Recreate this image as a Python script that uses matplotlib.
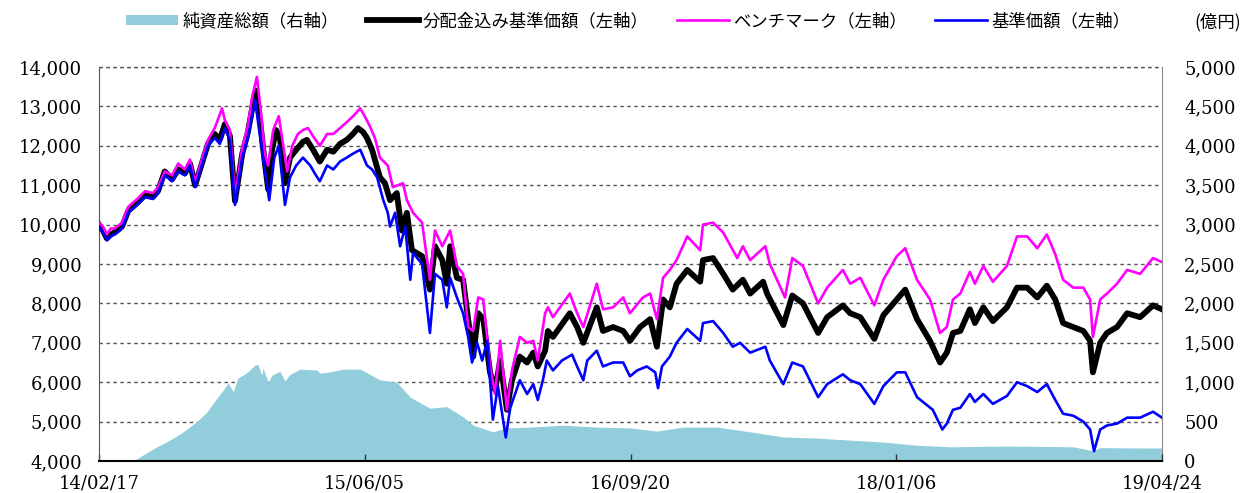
import numpy as np
import matplotlib
matplotlib.use("Agg")
import matplotlib.pyplot as plt
from matplotlib.lines import Line2D
from matplotlib.patches import Patch
from matplotlib.ticker import FuncFormatter

# ---------------- data ----------------
start_date = "2014-02-17"
tick_dates = ["2014-02-17", "2015-06-05", "2016-09-20", "2018-01-06", "2019-04-24"]
tick_labels = ["14/02/17", "15/06/05", "16/09/20", "18/01/06", "19/04/24"]

# 基準価額（左軸）: (days since start, value)
nav_days = [0, 7, 14, 21, 28, 41, 52, 68, 82, 96, 105, 117, 130, 141, 153, 162, 171, 183, 194, 206,
            215, 224, 233, 242, 255, 265, 272, 278, 285, 294, 303, 312, 320, 331, 340, 351, 363, 376,
            384, 393, 406, 417, 429, 441, 452, 465, 477, 486, 495, 506, 514, 518, 527, 536, 545, 554,
            559, 575, 589, 598, 611, 619, 625, 637, 648, 657, 664, 673, 682, 691, 701, 710, 724, 732,
            749, 762, 773, 781, 790, 797, 808, 824, 842, 851, 862, 869, 886, 897, 915, 933, 945, 958,
            975, 990, 995, 1002, 1016, 1028, 1047, 1070, 1075, 1093, 1111, 1128, 1141, 1159, 1186,
            1194, 1218, 1234, 1253, 1280, 1296, 1324, 1337, 1355, 1380, 1396, 1420, 1435, 1456, 1484,
            1501, 1509, 1520, 1533, 1550, 1559, 1574, 1591, 1616, 1634, 1652, 1670, 1687, 1702, 1716,
            1734, 1752, 1764, 1771, 1782, 1794, 1812, 1830, 1853, 1876, 1892]
nav_vals = [9950, 9800, 9600, 9700, 9750, 9900, 10300, 10500, 10700, 10650, 10800, 11250, 11100, 11350,
            11250, 11500, 10950, 11500, 12000, 12200, 12050, 12450, 12150, 10500, 11700, 12200, 12700,
            13150, 12400, 11500, 10620, 11700, 12000, 10500, 11200, 11500, 11700, 11500, 11300, 11100,
            11500, 11400, 11600, 11700, 11800, 11900, 11500, 11400, 11200, 10620, 10300, 9950, 10300,
            9450, 9950, 8600, 9280, 9000, 7250, 8750, 8600, 7900, 8650, 8150, 7750, 7150, 6500, 7000,
            6550, 7050, 5050, 5900, 4600, 5350, 6050, 5700, 5950, 5550, 6050, 6550, 6300, 6550, 6700,
            6400, 6050, 6550, 6800, 6400, 6500, 6500, 6150, 6300, 6400, 6250, 5850, 6400, 6650, 7000,
            7350, 7050, 7500, 7550, 7250, 6900, 7000, 6750, 6900, 6550, 5950, 6500, 6400, 5620, 5950,
            6200, 6050, 5950, 5450, 5900, 6250, 6250, 5620, 5300, 4800, 4950, 5300, 5350, 5700, 5500,
            5700, 5450, 5650, 6000, 5900, 5750, 5950, 5550, 5200, 5150, 5000, 4800, 4250, 4800, 4900,
            4950, 5100, 5100, 5250, 5100]

# 分配金込み基準価額（左軸）
adj_days = [0, 7, 14, 21, 28, 41, 52, 68, 82, 96, 105, 117, 130, 141, 153, 162, 171, 183, 194, 206,
            215, 224, 233, 242, 255, 265, 272, 279, 287, 294, 301, 308, 315, 322, 331, 340, 351, 363,
            370, 381, 393, 406, 417, 429, 441, 452, 461, 470, 477, 486, 500, 509, 518, 530, 539, 548,
            557, 575, 589, 598, 611, 619, 625, 637, 648, 657, 666, 675, 684, 696, 705, 714, 726, 735,
            749, 762, 773, 781, 794, 799, 808, 838, 851, 862, 886, 897, 915, 933, 945, 963, 981, 993,
            1004, 1016, 1028, 1047, 1070, 1075, 1093, 1111, 1128, 1146, 1159, 1182, 1189, 1218, 1234,
            1253, 1280, 1296, 1324, 1337, 1355, 1380, 1396, 1420, 1435, 1456, 1479, 1497, 1509, 1520,
            1533, 1550, 1559, 1574, 1591, 1616, 1634, 1652, 1670, 1687, 1702, 1716, 1734, 1752, 1764,
            1769, 1782, 1794, 1812, 1830, 1853, 1876, 1892]
adj_vals = [10000, 9850, 9650, 9750, 9800, 9950, 10350, 10550, 10750, 10700, 10850, 11350, 11150, 11400,
            11300, 11550, 11000, 11550, 12050, 12300, 12150, 12550, 12250, 10600, 11800, 12350, 12900,
            13400, 12600, 11700, 10900, 11900, 12400, 12200, 11050, 11700, 11900, 12100, 12150, 11900,
            11600, 11900, 11850, 12050, 12150, 12300, 12450, 12350, 12200, 11900, 11200, 11050, 10620,
            10800, 9850, 10300, 9350, 9200, 8350, 9450, 9100, 8500, 9450, 8650, 8600, 7600, 6650, 7750,
            7600, 6250, 5800, 6550, 5300, 6050, 6650, 6500, 6750, 6400, 6800, 7300, 7150, 7750, 7400,
            7000, 7900, 7300, 7400, 7300, 7050, 7400, 7600, 6900, 8100, 7900, 8500, 8850, 8550, 9100,
            9150, 8750, 8350, 8600, 8250, 8550, 8250, 7450, 8200, 8000, 7250, 7650, 7950, 7750, 7650,
            7100, 7700, 8100, 8350, 7600, 7050, 6500, 6750, 7250, 7300, 7850, 7500, 7900, 7550, 7900,
            8400, 8400, 8150, 8450, 8100, 7500, 7400, 7300, 7050, 6250, 7000, 7250, 7400, 7750, 7650,
            7950, 7850]

# ベンチマーク（左軸）
bm_days = [0, 7, 14, 21, 28, 41, 52, 68, 82, 96, 105, 117, 130, 141, 153, 162, 171, 183, 194, 206,
           219, 224, 233, 242, 255, 265, 272, 281, 288, 295, 301, 310, 320, 328, 335, 344, 354, 363,
           372, 383, 393, 406, 417, 429, 441, 452, 465, 473, 482, 491, 500, 514, 523, 541, 548, 559,
           575, 589, 598, 611, 625, 637, 648, 657, 666, 675, 684, 696, 705, 714, 726, 735, 749, 762,
           773, 781, 794, 799, 808, 838, 851, 862, 886, 897, 915, 933, 945, 968, 981, 993, 1004, 1016,
           1028, 1047, 1070, 1075, 1093, 1111, 1136, 1146, 1159, 1186, 1194, 1221, 1234, 1253, 1280,
           1296, 1324, 1337, 1355, 1380, 1396, 1420, 1435, 1456, 1479, 1497, 1509, 1520, 1533, 1550,
           1559, 1574, 1591, 1616, 1634, 1652, 1670, 1687, 1702, 1716, 1734, 1752, 1764, 1769, 1782,
           1794, 1812, 1830, 1853, 1876, 1892]
bm_vals = [10050, 9950, 9750, 9900, 9900, 10050, 10450, 10650, 10850, 10800, 10950, 11350, 11250, 11550,
           11400, 11650, 11050, 11650, 12150, 12450, 12950, 12650, 12400, 10700, 11950, 12500, 13200,
           13750, 12900, 11800, 11500, 12400, 12750, 12000, 11350, 12000, 12300, 12400, 12450, 12200,
           12000, 12300, 12300, 12450, 12600, 12750, 12950, 12750, 12500, 12200, 11700, 11500, 10950,
           11050, 10620, 10300, 10050, 8600, 9850, 9450, 9850, 8950, 8750, 7400, 7300, 8150, 8100, 6400,
           5700, 7050, 5300, 6300, 7150, 7000, 7050, 6550, 7750, 7900, 7650, 8250, 7750, 7400, 8500,
           7850, 7900, 8150, 7750, 8150, 8250, 7600, 8650, 8850, 9100, 9700, 9350, 10000, 10050, 9800,
           9150, 9450, 9100, 9450, 9000, 8150, 9150, 8950, 8000, 8400, 8850, 8500, 8650, 7950, 8600,
           9200, 9400, 8600, 8100, 7250, 7400, 8100, 8250, 8800, 8500, 8950, 8550, 8950, 9700, 9700,
           9400, 9750, 9250, 8600, 8400, 8400, 8100, 7150, 8100, 8250, 8500, 8850, 8750, 9150, 9050]

# 純資産総額（右軸, 億円）
aum_days = [0, 61, 78, 103, 126, 150, 174, 192, 210, 221, 230, 239, 247, 263, 278, 283, 290, 292, 301,
            308, 322, 331, 340, 358, 388, 393, 411, 434, 465, 482, 500, 530, 554, 589, 619, 648, 666,
            701, 726, 767, 826, 886, 945, 993, 1040, 1100, 1159, 1218, 1278, 1337, 1396, 1456, 1515,
            1616, 1734, 1769, 1782, 1853, 1892]
aum_vals = [0, 0, 75, 180, 265, 370, 500, 620, 800, 900, 990, 880, 1050, 1120, 1220, 1220, 1090, 1180,
            1000, 1090, 1140, 1015, 1100, 1165, 1155, 1115, 1130, 1165, 1165, 1100, 1030, 1000, 810, 670,
            690, 560, 455, 370, 420, 430, 455, 430, 420, 380, 430, 430, 370, 305, 290, 265, 240, 200,
            180, 190, 180, 130, 170, 165, 165]

# ---------------- helpers ----------------
t0 = np.datetime64(start_date)
def to_dates(days):
    return t0 + np.array(days).astype("timedelta64[D]")

W, H = 1248, 493
fig = plt.figure(figsize=(W / 100, H / 100), dpi=100)
pos = [99 / W, 32 / H, (1162 - 99) / W, (461 - 67) / H]

# area axis (right scale), also carries the grid
ax2 = fig.add_axes(pos)
ax2.fill_between(to_dates(aum_days), 0, aum_vals, color="#92CDDC", linewidth=0, zorder=2)
ax2.set_ylim(0, 5000)
ax2.set_yticks(np.arange(0, 5001, 500))
ax2.yaxis.tick_right()
ax2.yaxis.set_label_position("right")
ax2.yaxis.set_major_formatter(FuncFormatter(lambda v, p: f"{int(v):,}"))
ax2.grid(axis="y", color="#555555", linestyle=(0, (2.5, 2.5)), linewidth=1.0, zorder=1)
ax2.set_axisbelow(True)
ax2.tick_params(axis="y", length=0, pad=16, labelsize=13)
for lab in ax2.get_yticklabels():
    lab.set_family("DejaVu Serif")

# line axis (left scale)
ax = fig.add_axes(pos, sharex=ax2)
ax.patch.set_visible(False)
ax.plot(to_dates(adj_days), adj_vals, color="black", linewidth=4.2, solid_joinstyle="round", zorder=3)
ax.plot(to_dates(bm_days), bm_vals, color="#FF00FF", linewidth=1.9, zorder=4)
ax.plot(to_dates(nav_days), nav_vals, color="#0000FF", linewidth=1.9, zorder=5)
ax.set_ylim(4000, 14000)
ax.set_yticks(np.arange(4000, 14001, 1000))
ax.yaxis.set_major_formatter(FuncFormatter(lambda v, p: f"{int(v):,}"))
ax.tick_params(axis="y", length=0, pad=12, labelsize=13)
for lab in ax.get_yticklabels():
    lab.set_family("DejaVu Serif")

ax.set_xlim(np.datetime64(tick_dates[0]), np.datetime64(tick_dates[-1]))
ax.set_xticks([np.datetime64(d) for d in tick_dates])
ax.set_xticklabels(tick_labels, family="DejaVu Serif", fontsize=13)
ax.tick_params(axis="x", direction="in", length=5, width=1, color="#333333", pad=10)
ax2.tick_params(axis="x", bottom=False, labelbottom=False)

for a in (ax, ax2):
    a.spines["top"].set_visible(False)
ax.spines["right"].set_visible(False)
ax2.spines["left"].set_visible(False)
ax2.spines["bottom"].set_visible(False)
ax.spines["left"].set_color("#555555")
ax2.spines["right"].set_color("#888888")
ax.spines["bottom"].set_color("black")
ax.spines["bottom"].set_linewidth(1.5)
# top dashed line at 14,000
ax.axhline(14000, color="#555555", linestyle=(0, (2.5, 2.5)), linewidth=1.0, zorder=0, clip_on=False)

# legend
jp = ["Noto Sans CJK JP", "DejaVu Sans"]
handles = [
    Patch(facecolor="#92CDDC", edgecolor="none"),
    Line2D([], [], color="black", linewidth=4.2),
    Line2D([], [], color="#FF00FF", linewidth=1.9),
    Line2D([], [], color="#0000FF", linewidth=1.9),
]
labels = ["純資産総額（右軸）", "分配金込み基準価額（左軸）", "ベンチマーク（左軸）", "基準価額（左軸）"]
leg = fig.legend(handles, labels, loc="center left", bbox_to_anchor=(126 / W, 1 - 21 / H),
                 ncol=4, frameon=False, prop={"family": jp, "size": 12.5},
                 handlelength=3.0, handleheight=0.55, handletextpad=0.25, columnspacing=1.6,
                 borderpad=0, borderaxespad=0)
fig.text(1218 / W, 1 - 22 / H, "(億円)", ha="center", va="center", fontsize=12.5, family=jp)

fig.savefig("out.png", dpi=100)
